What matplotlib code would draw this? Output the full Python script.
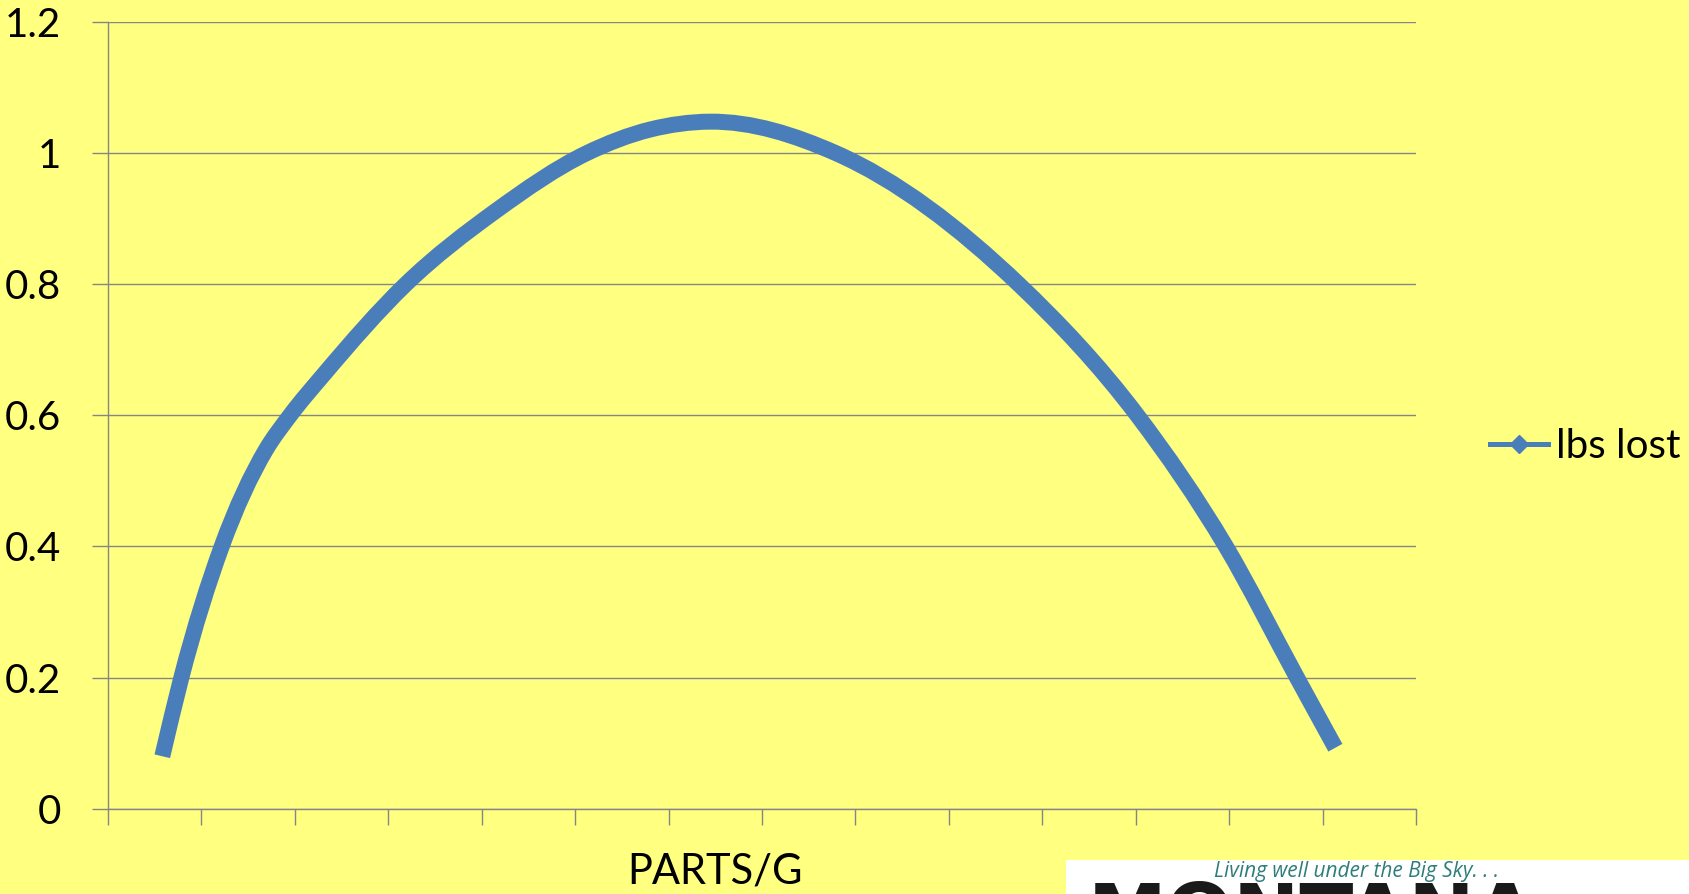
import numpy as np
import matplotlib.pyplot as plt
from matplotlib.path import Path
from matplotlib.patches import PathPatch, Rectangle
from matplotlib.lines import Line2D

# positions along the category axis (ticks sit on whole numbers) and pounds lost
parts_pos = [0.581, 0.785, 1.217, 1.688, 1.949, 2.313, 3.187, 4.152,
             5.125, 5.803, 6.445, 7.790, 9.748, 11.017, 11.965,
             12.726, 13.137]
lbs_lost = [0.080, 0.200, 0.400, 0.547, 0.600, 0.663, 0.800, 0.912,
            1.000, 1.036, 1.048, 1.000, 0.800, 0.600, 0.400,
            0.200, 0.093]
n_categories = 14
y_ticks = [0, 0.2, 0.4, 0.6, 0.8, 1.0, 1.2]
y_labels = ["0", "0.2", "0.4", "0.6", "0.8", "1", "1.2"]

series_name = "lbs lost"
x_title = "PARTS/G"
tagline = "Living well under the Big Sky. . ."
brand = "MONTANA"

BG = "#FFFF80"
LINE = "#4A7EBB"
AXIS = "#868686"
FONT = "Lato"


def smooth_path(xs, ys):
    """Cubic Bezier path through every point (Hermite slopes, x increasing)."""
    x = np.asarray(xs, float)
    y = np.asarray(ys, float)
    h = np.diff(x)
    d = np.diff(y) / h
    m = np.empty_like(x)
    m[0], m[-1] = d[0], d[-1]
    m[1:-1] = (d[:-1] * h[1:] + d[1:] * h[:-1]) / (h[:-1] + h[1:])

    verts = [(x[0], y[0])]
    codes = [Path.MOVETO]
    for i in range(len(x) - 1):
        k = h[i] / 3
        verts += [(x[i] + k, y[i] + m[i] * k),
                  (x[i + 1] - k, y[i + 1] - m[i + 1] * k),
                  (x[i + 1], y[i + 1])]
        codes += [Path.CURVE4] * 3
    return Path(verts, codes)


W, H = 1690, 894
fig = plt.figure(figsize=(W / 100, H / 100), dpi=100, facecolor=BG)
ax = fig.add_axes([108 / W, 1 - 808.7 / H, (1416 - 108) / W, (808.7 - 22) / H])
ax.set_facecolor(BG)

ax.add_patch(PathPatch(smooth_path(parts_pos, lbs_lost), facecolor="none",
                       edgecolor=LINE, lw=11.5, capstyle="butt", joinstyle="round",
                       zorder=3))

ax.set_xlim(0, n_categories)
ax.set_ylim(0, 1.2)
ax.set_xticks(range(n_categories + 1))
ax.set_xticklabels([])
ax.set_yticks(y_ticks)
ax.set_yticklabels(y_labels, fontsize=29, family=FONT)

ax.grid(axis="y", color=AXIS, lw=1.0)
ax.set_axisbelow(True)
for side in ("top", "right"):
    ax.spines[side].set_visible(False)
for side in ("left", "bottom"):
    ax.spines[side].set_color(AXIS)
    ax.spines[side].set_linewidth(1.0)
ax.tick_params(axis="both", direction="out", length=11.5, width=1.0, color=AXIS)
ax.tick_params(axis="y", pad=22)

fig.text(714.6 / W, 1 - 871 / H, x_title, fontsize=30, family=FONT,
         ha="center", va="center")

handle = Line2D([], [], color=LINE, lw=3.6, marker="D", markersize=9,
                markerfacecolor=LINE, markeredgecolor=LINE)
fig.legend([handle], [series_name], loc="center left",
           bbox_to_anchor=(1490 / W, 1 - 446.7 / H), frameon=False,
           borderpad=0, borderaxespad=0, handlelength=1.45, handletextpad=0.2,
           prop={"family": FONT, "size": 29})

# logo strip in the bottom-right corner
fig.patches.append(Rectangle((1066 / W, 0), (W - 1066) / W, (H - 860) / H,
                             transform=fig.transFigure, facecolor="white",
                             edgecolor="none", zorder=5))
fig.text(1214 / W, 1 - 871 / H, tagline, fontsize=15, style="italic",
         family="Open Sans", color="#2E7D7A", ha="left", va="center", zorder=6)
fig.text(1088 / W, 1 - 880 / H, brand, fontsize=57, weight="bold",
         family="DejaVu Sans", color="#1A1A1A", ha="left", va="top", zorder=6)

fig.savefig("out.png", dpi=100, facecolor=BG)
